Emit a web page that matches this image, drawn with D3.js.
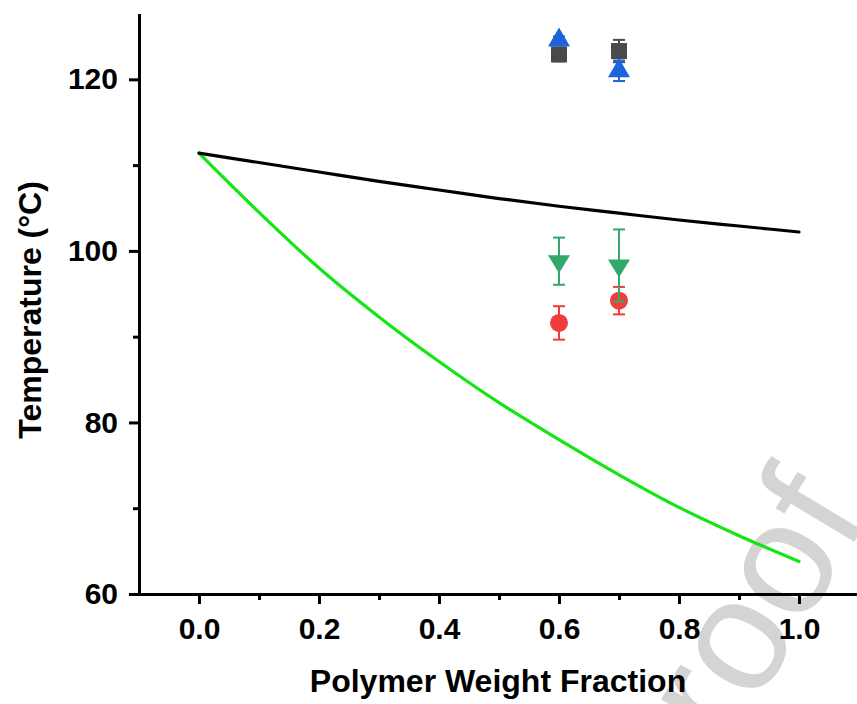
<!DOCTYPE html>
<html>
<head>
<meta charset="utf-8">
<script src="https://cdn.jsdelivr.net/npm/d3@7"></script>
<style>
  html, body { margin: 0; padding: 0; background: #fff; }
  svg { display: block; }
  text { font-family: "Liberation Sans", Arial, sans-serif; }
</style>
</head>
<body>
<svg id="chart" width="857" height="704"></svg>
<script>
// ---- data ----
const xTicks = [0.0, 0.2, 0.4, 0.6, 0.8, 1.0];
const xMinorTicks = [0.1, 0.3, 0.5, 0.7, 0.9];
const yTicks = [60, 80, 100, 120];
const yMinorTicks = [70, 90, 110];

const curveX = [0.0, 0.1, 0.2, 0.3, 0.4, 0.5, 0.6, 0.7, 0.8, 0.9, 1.0];
const blackCurveY = [111.4, 110.3, 109.2, 108.1, 107.1, 106.1, 105.2, 104.4, 103.6, 102.9, 102.2];
const greenCurveY = [111.4, 104.5, 98.0, 92.3, 87.1, 82.3, 78.0, 73.9, 70.1, 66.8, 63.8];

const pointX = [0.6, 0.7];
const squareY = [122.9, 123.3];
const squareErr = [0.8, 1.3];
const upTriY = [124.6, 121.0];
const upTriErr = [0.4, 1.2];
const circleY = [91.6, 94.2];
const circleErr = [1.95, 1.6];
const downTriY = [98.8, 98.3];
const downTriErr = [2.75, 4.2];

const xTitle = "Polymer Weight Fraction";
const yTitle = "Temperature (°C)";
const watermark = "roof";

// ---- setup ----
const svg = d3.select("#chart");
const x = d3.scaleLinear().domain([-0.1, 1.1]).range([139, 859]);
const y = d3.scaleLinear().domain([60, 127.5]).range([594, 15]);

// watermark (behind)
svg.append("text")
  .attr("transform", "translate(728,752) rotate(-59)")
  .attr("font-size", 160)
  .attr("fill", "#d4d4d4")
  .text(watermark);

// ---- curves ----
const line = d3.line().x(d => x(d[0])).y(d => y(d[1])).curve(d3.curveMonotoneX);
svg.append("path")
  .datum(curveX.map((v, i) => [v, greenCurveY[i]]))
  .attr("d", line).attr("fill", "none")
  .attr("stroke", "#14e614").attr("stroke-width", 3.2).attr("stroke-linecap", "round");
svg.append("path")
  .datum(curveX.map((v, i) => [v, blackCurveY[i]]))
  .attr("d", line).attr("fill", "none")
  .attr("stroke", "#000").attr("stroke-width", 3.2).attr("stroke-linecap", "round");

// ---- error bars + markers ----
function errorBars(vals, errs, color) {
  const g = svg.append("g").attr("stroke", color).attr("stroke-width", 2);
  pointX.forEach((px, i) => {
    const cx = x(px), y1 = y(vals[i] + errs[i]), y2 = y(vals[i] - errs[i]);
    g.append("line").attr("x1", cx).attr("x2", cx).attr("y1", y1).attr("y2", y2);
    g.append("line").attr("x1", cx - 6).attr("x2", cx + 6).attr("y1", y1).attr("y2", y1);
    g.append("line").attr("x1", cx - 6).attr("x2", cx + 6).attr("y1", y2).attr("y2", y2);
  });
}

// squares
errorBars(squareY, squareErr, "#4a4a4a");
svg.append("g").selectAll("rect").data(pointX).join("rect")
  .attr("x", (d) => x(d) - 8).attr("y", (d, i) => y(squareY[i]) - 8)
  .attr("width", 16).attr("height", 16).attr("fill", "#4a4a4a");

// up triangles
errorBars(upTriY, upTriErr, "#1b64dc");
svg.append("g").selectAll("path").data(pointX).join("path")
  .attr("d", (d, i) => {
    const cx = x(d), cy = y(upTriY[i]);
    return `M${cx},${cy - 12.5}L${cx + 11},${cy + 6.5}L${cx - 11},${cy + 6.5}Z`;
  })
  .attr("fill", "#1b64dc");

// circles
errorBars(circleY, circleErr, "#f03c3c");
svg.append("g").selectAll("circle").data(pointX).join("circle")
  .attr("cx", d => x(d)).attr("cy", (d, i) => y(circleY[i])).attr("r", 9)
  .attr("fill", "#f03c3c");

// down triangles
svg.append("g").selectAll("path").data(pointX).join("path")
  .attr("d", (d, i) => {
    const cx = x(d), cy = y(downTriY[i]);
    return `M${cx - 11},${cy - 6}L${cx + 11},${cy - 6}L${cx},${cy + 12}Z`;
  })
  .attr("fill", "#32a86a");
errorBars(downTriY, downTriErr, "#32a86a");

// ---- axes ----
const xAxis = svg.append("g").attr("transform", "translate(0,594)")
  .call(d3.axisBottom(x).tickValues(xTicks).tickFormat(d3.format(".1f")).tickSize(10).tickSizeOuter(0).tickPadding(14));
const xMinor = svg.append("g").attr("transform", "translate(0,594)")
  .call(d3.axisBottom(x).tickValues(xMinorTicks).tickFormat("").tickSize(6).tickSizeOuter(0));
const yAxis = svg.append("g").attr("transform", "translate(139,0)")
  .call(d3.axisLeft(y).tickValues(yTicks).tickSize(10).tickSizeOuter(0).tickPadding(11));
const yMinor = svg.append("g").attr("transform", "translate(139,0)")
  .call(d3.axisLeft(y).tickValues(yMinorTicks).tickFormat("").tickSize(6).tickSizeOuter(0));

[xAxis, xMinor, yAxis, yMinor].forEach(g => {
  g.select(".domain").attr("stroke", "#000").attr("stroke-width", 3).attr("stroke-linecap", "square");
  g.selectAll(".tick line").attr("stroke", "#000").attr("stroke-width", 3);
  g.selectAll(".tick text").attr("fill", "#000")
    .attr("font-size", 30).attr("font-weight", "bold")
    .attr("font-family", "'Liberation Sans', Arial, sans-serif");
});
xMinor.select(".domain").remove();
yMinor.select(".domain").remove();

// ---- titles ----
svg.append("text")
  .attr("x", 498).attr("y", 692)
  .attr("text-anchor", "middle")
  .attr("font-size", 32).attr("font-weight", "bold").attr("fill", "#000")
  .text(xTitle);
svg.append("text")
  .attr("transform", "translate(41,310) rotate(-90)")
  .attr("text-anchor", "middle")
  .attr("font-size", 32).attr("font-weight", "bold").attr("fill", "#000")
  .text(yTitle);
</script>
</body>
</html>
